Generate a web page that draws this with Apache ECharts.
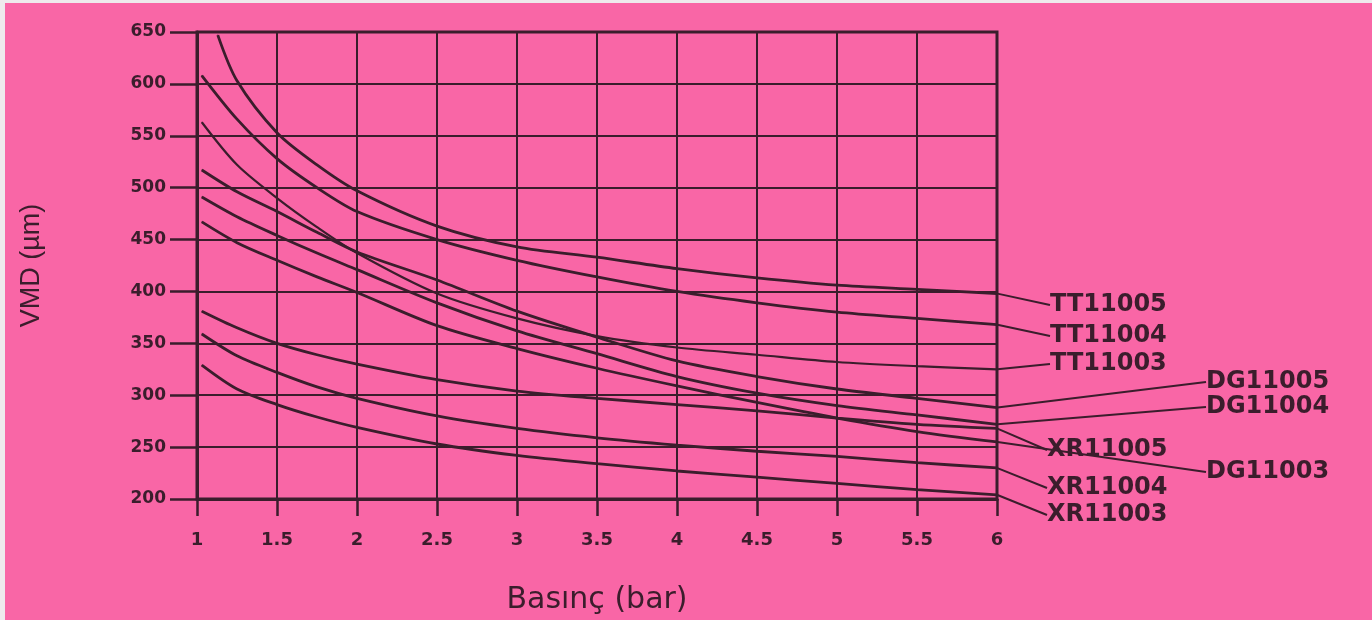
<!DOCTYPE html>
<html>
<head>
<meta charset="utf-8">
<script src="https://cdn.jsdelivr.net/npm/echarts@6/dist/echarts.min.js"></script>
<style>
html,body{margin:0;padding:0;background:#f966a6;}
#chart{width:1372px;height:620px;}
</style>
</head>
<body>
<div id="chart"></div>
<script>
// ---- data ----
const seriesNames = ['TT11005','TT11004','TT11003','DG11005','DG11004','XR11005','DG11003','XR11004','XR11003'];
const pressureTT11005 = [1.13, 1.25, 1.5, 1.75, 2, 2.5, 3, 3.5, 4, 4.5, 5, 5.5, 6];
const pressureStd     = [1.03, 1.25, 1.5, 1.75, 2, 2.5, 3, 3.5, 4, 4.5, 5, 5.5, 6];
const vmdTT11005 = [647, 603, 553, 522, 497, 463, 443, 433, 422, 413, 406, 402, 398];
const vmdTT11004 = [608, 566, 528, 500, 477, 450, 430, 414, 400, 389, 380, 374, 368];
const vmdTT11003 = [563, 522, 490, 462, 437, 398, 374, 357, 346, 339, 332, 328, 325];
const vmdDG11005 = [517, 496, 477, 457, 438, 411, 381, 356, 333, 318, 306, 297, 288];
const vmdDG11004 = [491, 472, 454, 437, 421, 389, 362, 340, 318, 302, 290, 281, 272];
const vmdXR11005 = [381, 365, 350, 339, 330, 315, 304, 297, 291, 285, 278, 272, 268];
const vmdDG11003 = [467, 447, 430, 414, 399, 367, 345, 326, 309, 293, 278, 265, 255];
const vmdXR11004 = [359, 338, 322, 308, 297, 280, 268, 259, 252, 246, 241, 235, 230];
const vmdXR11003 = [329, 306, 291, 279, 269, 253, 242, 234, 227, 221, 215, 209, 204];
const xTicks = [1, 1.5, 2, 2.5, 3, 3.5, 4, 4.5, 5, 5.5, 6];
const yTicks = [200, 250, 300, 350, 400, 450, 500, 550, 600, 650];

const seriesPressure = [pressureTT11005, pressureStd, pressureStd, pressureStd, pressureStd, pressureStd, pressureStd, pressureStd, pressureStd];
const seriesValues = [vmdTT11005, vmdTT11004, vmdTT11003, vmdDG11005, vmdDG11004, vmdXR11005, vmdDG11003, vmdXR11004, vmdXR11003];

// ---- styling / label placement (pixels) ----
const INK = '#3b1d2c';
const labelPos = [
  [1050, 305], [1050, 336], [1050, 364],
  [1206, 382], [1206, 407], [1047, 450],
  [1206, 472], [1047, 488], [1047, 515]
];

const chart = echarts.init(document.getElementById('chart'), null, {renderer: 'canvas'});

const series = seriesNames.map(function (name, s) {
  const p = seriesPressure[s];
  const v = seriesValues[s];
  const last = v.length - 1;
  const data = v.map(function (val, i) {
    if (i === last) {
      return {value: [p[i], val], label: {show: true}};
    }
    return [p[i], val];
  });
  return {
    name: name,
    type: 'line',
    data: data,
    smooth: 0.3,
    showSymbol: true,
    symbol: 'circle',
    symbolSize: 1,
    itemStyle: {color: INK},
    lineStyle: {color: INK, width: name === 'TT11003' ? 2.2 : 2.8},
    label: {
      show: false,
      formatter: name,
      color: INK,
      fontFamily: 'DejaVu Sans',
      fontWeight: 'bold',
      fontSize: 24
    },
    labelLine: {show: true, smooth: false, lineStyle: {color: INK, width: 2}},
    labelLayout: function (params) {
      const lp = labelPos[params.seriesIndex];
      return {x: lp[0], y: lp[1], align: 'left', verticalAlign: 'middle'};
    },
    emphasis: {disabled: true},
    z: 3
  };
});

const option = {
  backgroundColor: '#f966a6',
  animation: false,
  graphic: [
    {type: 'rect', left: 0, top: 0, shape: {width: 5, height: 620}, style: {fill: '#efeaed'}, silent: true},
    {type: 'rect', left: 0, top: 0, shape: {width: 1372, height: 3}, style: {fill: '#efeaed'}, silent: true}
  ],
  grid: {
    left: 197, right: 375, top: 32, bottom: 108,
    show: true, borderColor: INK, borderWidth: 3, backgroundColor: 'transparent'
  },
  xAxis: {
    type: 'value',
    min: xTicks[0], max: xTicks[xTicks.length - 1], interval: 0.5,
    name: 'Basınç (bar)',
    nameLocation: 'middle',
    nameGap: 86,
    nameTextStyle: {color: INK, fontFamily: 'DejaVu Sans', fontSize: 30},
    axisLine: {show: true, lineStyle: {color: INK, width: 3}},
    axisTick: {show: true, length: 17, lineStyle: {color: INK, width: 2.5}},
    axisLabel: {color: INK, fontFamily: 'DejaVu Sans', fontWeight: 'bold', fontSize: 18, margin: 32},
    splitLine: {show: true, lineStyle: {color: INK, width: 2}}
  },
  yAxis: {
    type: 'value',
    min: yTicks[0], max: yTicks[yTicks.length - 1], interval: 50,
    name: 'VMD (µm)',
    nameLocation: 'middle',
    nameGap: 152,
    nameRotate: 90,
    nameTextStyle: {color: INK, fontFamily: 'Liberation Sans', fontSize: 27},
    axisLine: {show: true, lineStyle: {color: INK, width: 3}},
    axisTick: {show: true, length: 27, lineStyle: {color: INK, width: 2.5}},
    axisLabel: {color: INK, fontFamily: 'DejaVu Sans', fontWeight: 'bold', fontSize: 17, margin: 31},
    splitLine: {show: true, lineStyle: {color: INK, width: 2}}
  },
  series: series
};

chart.setOption(option);
</script>
</body>
</html>
